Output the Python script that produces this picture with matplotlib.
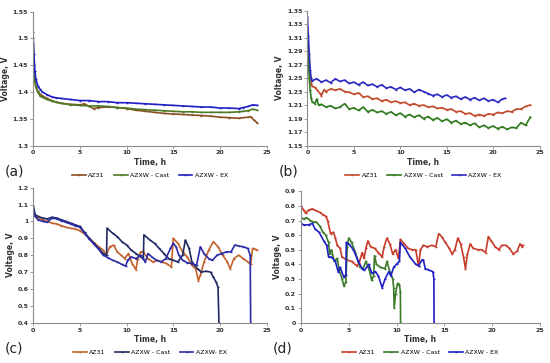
import matplotlib.pyplot as plt

FontSize = 4.5

# ---------------- panel (a) ----------------
t_a_ex = [0, 0.1, 0.2, 0.3, 0.5, 0.75, 1, 1.5, 2, 2.5, 3, 4, 5, 6, 7, 8, 9, 10, 11, 12, 13, 14, 15, 16,
          17, 18, 19, 20, 21, 22, 22.5, 23, 23.5, 24]
v_a_ex = [1.512, 1.47, 1.44, 1.425, 1.412, 1.405, 1.400, 1.395, 1.391, 1.389, 1.388, 1.386, 1.384, 1.384,
          1.382, 1.382, 1.380, 1.380, 1.379, 1.378, 1.377, 1.376, 1.375, 1.374, 1.373, 1.372, 1.372, 1.370,
          1.370, 1.369, 1.371, 1.373, 1.376, 1.375]
t_a_cast = [0, 0.1, 0.2, 0.3, 0.5, 0.75, 1, 1.5, 2, 2.5, 3, 4, 5, 6, 7, 8, 9, 10, 11, 12, 13, 14, 15, 16,
            17, 18, 19, 20, 21, 22, 22.5, 23, 23.5, 24]
v_a_cast = [1.50, 1.45, 1.42, 1.41, 1.40, 1.393, 1.390, 1.386, 1.383, 1.381, 1.379, 1.376, 1.375, 1.374,
            1.374, 1.373, 1.371, 1.370, 1.368, 1.367, 1.366, 1.365, 1.364, 1.363, 1.363, 1.362, 1.362, 1.362,
            1.362, 1.363, 1.364, 1.365, 1.368, 1.366]
t_a_az = [0, 0.1, 0.2, 0.3, 0.5, 0.75, 1, 1.5, 2, 2.5, 3, 4, 5, 5.5, 6, 6.5, 7, 8, 9, 10, 11, 12, 13, 14,
          15, 16, 17, 18, 19, 20, 21, 22, 23, 23.3, 23.6, 24]
v_a_az = [1.49, 1.45, 1.425, 1.41, 1.402, 1.396, 1.393, 1.388, 1.384, 1.381, 1.379, 1.377, 1.376, 1.378,
          1.373, 1.369, 1.371, 1.372, 1.371, 1.369, 1.366, 1.364, 1.362, 1.360, 1.359, 1.358, 1.357, 1.356,
          1.355, 1.353, 1.352, 1.351, 1.353, 1.354, 1.348, 1.342]

# ---------------- panel (b) ----------------
t_b_ex = [0, 0.1, 0.2, 0.3, 0.4, 0.5, 1.0, 1.5, 2.0, 2.5, 3.0, 3.5, 4.0, 4.5, 5.0, 5.5, 6.0, 6.5, 7.0, 7.5,
          8.0, 8.5, 9.0, 9.5, 10.0, 10.5, 11.0, 11.5, 12.0, 12.5, 13.0, 13.5, 14.0, 14.5, 15.0, 15.5, 16.0,
          16.5, 17.0, 17.5, 18.0, 18.5, 19.0, 19.5, 20.0, 20.5, 21.0, 21.3]
v_b_ex = [1.340, 1.312, 1.285, 1.262, 1.250, 1.246, 1.249, 1.244, 1.247, 1.243, 1.249, 1.245, 1.247, 1.242,
          1.244, 1.240, 1.244, 1.239, 1.241, 1.237, 1.240, 1.235, 1.237, 1.233, 1.236, 1.232, 1.234, 1.229,
          1.233, 1.230, 1.227, 1.224, 1.226, 1.222, 1.225, 1.221, 1.223, 1.219, 1.222, 1.218, 1.221, 1.217,
          1.220, 1.216, 1.218, 1.214, 1.219, 1.220]
t_b_az = [0, 0.1, 0.2, 0.3, 0.4, 0.5, 0.8, 1.0, 1.3, 1.5, 1.8, 2.0, 2.5, 3.0, 3.5, 4.0, 4.5, 5.0, 5.5, 6.0,
          6.5, 7.0, 7.5, 8.0, 8.5, 9.0, 9.5, 10.0, 10.5, 11.0, 11.5, 12.0, 12.5, 13.0, 13.5, 14.0, 14.5, 15.0,
          15.5, 16.0, 16.5, 17.0, 17.5, 18.0, 18.5, 19.0, 19.5, 20.0, 20.5, 21.0, 21.5, 22.0, 22.5, 23.0,
          23.5, 24.0]
v_b_az = [1.300, 1.285, 1.268, 1.252, 1.242, 1.238, 1.236, 1.233, 1.228, 1.224, 1.233, 1.230, 1.234, 1.232,
          1.234, 1.230, 1.229, 1.226, 1.228, 1.222, 1.223, 1.219, 1.220, 1.216, 1.218, 1.214, 1.216, 1.213,
          1.214, 1.210, 1.212, 1.209, 1.210, 1.207, 1.208, 1.205, 1.206, 1.203, 1.204, 1.200, 1.201, 1.197,
          1.198, 1.194, 1.196, 1.194, 1.197, 1.196, 1.199, 1.198, 1.201, 1.200, 1.204, 1.204, 1.208, 1.210]
t_b_cast = [0, 0.1, 0.2, 0.3, 0.4, 0.5, 0.8, 1.0, 1.2, 1.5, 2.0, 2.5, 3.0, 3.5, 4.0, 4.5, 5.0, 5.5, 6.0,
            6.5, 7.0, 7.5, 8.0, 8.5, 9.0, 9.5, 10.0, 10.5, 11.0, 11.5, 12.0, 12.5, 13.0, 13.5, 14.0, 14.5,
            15.0, 15.5, 16.0, 16.5, 17.0, 17.5, 18.0, 18.5, 19.0, 19.5, 20.0, 20.5, 21.0, 21.5, 22.0, 22.5,
            23.0, 23.5, 24.0]
v_b_cast = [1.300, 1.275, 1.250, 1.232, 1.220, 1.215, 1.212, 1.219, 1.210, 1.211, 1.207, 1.209, 1.205,
            1.207, 1.212, 1.204, 1.206, 1.202, 1.207, 1.200, 1.203, 1.199, 1.201, 1.197, 1.200, 1.195, 1.198,
            1.193, 1.196, 1.192, 1.195, 1.190, 1.193, 1.188, 1.191, 1.186, 1.189, 1.184, 1.187, 1.182, 1.184,
            1.180, 1.183, 1.177, 1.180, 1.176, 1.179, 1.175, 1.178, 1.174, 1.177, 1.176, 1.184, 1.180, 1.192]

# ---------------- panel (c) ----------------
t_c_az = [0, 0.2, 0.5, 1, 1.5, 2, 2.5, 3, 3.5, 4, 4.5, 5, 5.5, 6, 6.5, 7, 7.5, 7.8, 8.2, 8.6, 9.0, 9.4,
          9.8, 10.2, 10.6, 11.0, 11.2, 11.5, 11.8, 12.3, 12.8, 13.3, 13.8, 14.3, 14.8, 15.0, 15.5, 16.0, 16.5,
          17.0, 17.4, 17.7, 17.9, 18.3, 18.8, 19.3, 19.8, 20.3, 20.8, 21.1, 21.5, 22.0, 22.5, 23.0, 23.3,
          23.5, 23.8, 24.0]
v_c_az = [1.05, 1.03, 1.02, 1.01, 1.00, 0.99, 0.985, 0.975, 0.965, 0.96, 0.955, 0.945, 0.925, 0.90, 0.875,
          0.85, 0.83, 0.80, 0.85, 0.86, 0.82, 0.80, 0.78, 0.81, 0.75, 0.715, 0.78, 0.82, 0.82, 0.78, 0.76,
          0.77, 0.76, 0.75, 0.73, 0.90, 0.87, 0.82, 0.79, 0.74, 0.72, 0.65, 0.68, 0.76, 0.83, 0.88, 0.85,
          0.80, 0.76, 0.72, 0.78, 0.80, 0.78, 0.76, 0.745, 0.84, 0.835, 0.83]
t_c_cast = [0, 0.2, 0.5, 1, 1.5, 2, 2.5, 3, 3.5, 4, 4.5, 5, 5.5, 6, 6.5, 7, 7.5, 7.85, 7.9, 8.5, 9, 9.5,
            10, 10.5, 11, 11.5, 11.8, 11.85, 12.5, 13, 13.5, 14, 14.5, 15.0, 15.5, 16.0, 16.3, 16.7, 17.0,
            17.3, 17.6, 18.0, 18.5, 19.0, 19.3, 19.6, 19.8, 19.9]
v_c_cast = [1.09, 1.04, 1.03, 1.02, 1.015, 1.025, 1.02, 1.01, 1.00, 0.99, 0.98, 0.97, 0.935, 0.90, 0.87,
            0.84, 0.81, 0.80, 0.96, 0.93, 0.91, 0.88, 0.86, 0.83, 0.81, 0.79, 0.78, 0.92, 0.89, 0.87, 0.84,
            0.81, 0.78, 0.77, 0.76, 0.80, 0.89, 0.84, 0.76, 0.74, 0.72, 0.70, 0.705, 0.70, 0.67, 0.64, 0.61,
            0.40]
t_c_ex = [0, 0.2, 0.5, 1, 1.5, 2, 2.5, 3, 3.5, 4, 4.5, 5, 5.5, 6, 6.5, 7, 7.5, 8.0, 8.5, 9.0, 9.5, 9.9,
          10.1, 10.5, 11.0, 11.5, 12.0, 12.3, 12.7, 13.2, 13.7, 14.2, 14.7, 15.0, 15.3, 15.6, 16.0, 16.5,
          17.0, 17.5, 17.9, 18.3, 18.8, 19.2, 19.7, 20.2, 20.7, 21.2, 21.6, 22.0, 22.5, 23.0, 23.25, 23.3]
v_c_ex = [1.07, 1.03, 1.01, 1.00, 0.995, 1.02, 1.015, 1.005, 0.995, 0.985, 0.975, 0.965, 0.93, 0.895,
          0.865, 0.835, 0.80, 0.785, 0.77, 0.76, 0.745, 0.735, 0.77, 0.79, 0.78, 0.80, 0.76, 0.81, 0.79,
          0.77, 0.76, 0.78, 0.84, 0.87, 0.85, 0.80, 0.77, 0.755, 0.75, 0.74, 0.85, 0.81, 0.78, 0.77, 0.80,
          0.81, 0.82, 0.82, 0.86, 0.855, 0.85, 0.84, 0.80, 0.40]

# ---------------- panel (d) ----------------
t_d_az = [0, 0.3, 0.5, 0.8, 1.2, 1.5, 2.0, 2.3, 2.6, 2.8, 3.1, 3.4, 3.6, 3.8, 4.1, 4.3, 4.8, 5.3, 5.85,
          6.1, 6.4, 6.6, 6.8, 7.0, 7.3, 7.7, 8.1, 8.5, 8.7, 9.0, 9.3, 9.6, 9.9, 10.2, 10.4, 10.8, 11.2, 11.6,
          12.0, 12.3, 12.5, 12.8, 13.2, 13.7, 14.1, 14.4, 14.7, 15.1, 15.5, 15.8, 16.1, 16.4, 16.7, 17.0,
          17.2, 17.4, 17.7, 18.0, 18.5, 18.9, 19.3, 19.6, 19.9, 20.3, 20.7, 21.0, 21.4, 21.8, 22.2, 22.6,
          22.9, 23.1, 23.2]
v_d_az = [0.80, 0.77, 0.75, 0.77, 0.78, 0.77, 0.755, 0.74, 0.73, 0.70, 0.61, 0.62, 0.58, 0.53, 0.51, 0.45,
          0.43, 0.42, 0.39, 0.41, 0.48, 0.44, 0.51, 0.56, 0.52, 0.51, 0.48, 0.45, 0.52, 0.58, 0.54, 0.47,
          0.50, 0.44, 0.57, 0.54, 0.51, 0.50, 0.50, 0.39, 0.50, 0.53, 0.52, 0.53, 0.52, 0.61, 0.59, 0.55,
          0.51, 0.47, 0.50, 0.58, 0.54, 0.45, 0.37, 0.47, 0.54, 0.51, 0.50, 0.50, 0.48, 0.59, 0.56, 0.52,
          0.50, 0.53, 0.53, 0.51, 0.47, 0.49, 0.54, 0.52, 0.53]
t_d_cast = [0, 0.3, 0.6, 1.0, 1.3, 1.6, 2.0, 2.3, 2.6, 2.9, 3.0, 3.2, 3.5, 3.8, 4.0, 4.3, 4.5, 4.7, 4.85,
            5.0, 5.3, 5.7, 6.0, 6.2, 6.5, 6.8, 7.2, 7.4, 7.6, 7.7, 7.9, 8.3, 8.8, 9.0, 9.3, 9.6, 9.7, 9.75,
            9.9, 10.1, 10.3, 10.4, 10.42]
v_d_cast = [0.72, 0.71, 0.72, 0.70, 0.69, 0.69, 0.66, 0.62, 0.60, 0.55, 0.47, 0.50, 0.42, 0.44, 0.36, 0.30,
            0.25, 0.28, 0.52, 0.58, 0.55, 0.48, 0.42, 0.38, 0.37, 0.42, 0.35, 0.29, 0.32, 0.46, 0.40, 0.38,
            0.37, 0.42, 0.35, 0.30, 0.24, 0.10, 0.20, 0.27, 0.26, 0.21, 0.0]
t_d_ex = [0, 0.3, 0.8, 1.2, 1.5, 1.9, 2.4, 2.7, 2.9, 3.2, 3.6, 3.9, 4.1, 4.5, 4.7, 4.75, 5.0, 5.5, 6.0, 6.4,
          6.65, 7.1, 7.4, 7.8, 8.1, 8.5, 8.8, 9.2, 9.4, 9.7, 10.0, 10.3, 10.4, 10.9, 11.4, 12.0, 12.3, 12.65,
          12.8, 13.0, 13.4, 13.8, 13.9, 13.92]
v_d_ex = [0.68, 0.67, 0.67, 0.68, 0.64, 0.62, 0.56, 0.53, 0.45, 0.45, 0.42, 0.35, 0.38, 0.31, 0.33, 0.55,
          0.54, 0.50, 0.42, 0.37, 0.36, 0.40, 0.34, 0.35, 0.32, 0.24, 0.30, 0.35, 0.32, 0.38, 0.40, 0.42,
          0.55, 0.51, 0.45, 0.40, 0.39, 0.43, 0.43, 0.37, 0.36, 0.35, 0.30, 0.0]


def draw_panel(fig, rect, series, ylim, ystep, yfmt, tag, ex_label='AZXW - EX'):
    ax = fig.add_axes(rect)
    labels = ['AZ31', 'AZXW - Cast', ex_label]
    for (t, v, c), lab in zip(series, labels):
        ax.plot(t, v, color=c, linewidth=1.2, marker='_', markersize=1.8, label=lab)
    ax.set_xlim(0, 25)
    ax.set_ylim(*ylim)
    ax.set_xticks(range(0, 26, 5))
    n = int(round((ylim[1] - ylim[0]) / ystep))
    yt = [ylim[0] + i * ystep for i in range(n + 1)]
    ax.set_yticks(yt)
    ax.set_yticklabels([yfmt(y) for y in yt])
    for s in ['top', 'right']:
        ax.spines[s].set_visible(False)
    for s in ['left', 'bottom']:
        ax.spines[s].set_color('#8c8c8c')
        ax.spines[s].set_linewidth(0.8)
    ax.tick_params(axis='both', labelsize=FontSize, length=2, width=0.6, color='#8c8c8c', pad=1.5)
    for lbl in ax.get_xticklabels() + ax.get_yticklabels():
        lbl.set_fontweight('bold')
        lbl.set_color('#333333')
    ax.set_xlabel('Time, h', fontsize=5.5, fontweight='bold', color='#333333', labelpad=1.5)
    ax.set_ylabel('Voltage, V', fontsize=5.5, fontweight='bold', color='#333333', labelpad=2)
    ax.legend(loc='upper center', bbox_to_anchor=(0.5, -0.16), ncol=3, frameon=False,
              fontsize=FontSize, handlelength=2.2, columnspacing=1.5, handletextpad=0.4)
    fig.text(rect[0] - 0.052, rect[1] - 0.082, tag, fontsize=10, color='#222222')
    return ax


def fmt_g(y):
    return ('%.2f' % y).rstrip('0').rstrip('.')


def fmt_2(y):
    return '%.2f' % y


def plot_data():
    fig = plt.figure(figsize=(5.5, 3.63), dpi=100)

    draw_panel(fig, [0.060, 0.599, 0.425, 0.369],
               [(t_a_az, v_a_az, '#8a4f22'), (t_a_cast, v_a_cast, '#4f7a25'), (t_a_ex, v_a_ex, '#1f1fc4')],
               (1.3, 1.55), 0.05, fmt_g, '(a)')
    draw_panel(fig, [0.559, 0.599, 0.422, 0.372],
               [(t_b_az, v_b_az, '#c24a2c'), (t_b_cast, v_b_cast, '#2f7a1f'), (t_b_ex, v_b_ex, '#2a2ac0')],
               (1.15, 1.35), 0.02, fmt_2, '(b)')
    draw_panel(fig, [0.0606, 0.111, 0.424, 0.372],
               [(t_c_az, v_c_az, '#c4622b'), (t_c_cast, v_c_cast, '#1f2a62'), (t_c_ex, v_c_ex, '#2c2ca8')],
               (0.4, 1.2), 0.1, fmt_g, '(c)', ex_label='AZXW- EX')
    draw_panel(fig, [0.547, 0.111, 0.435, 0.362],
               [(t_d_az, v_d_az, '#c83c2a'), (t_d_cast, v_d_cast, '#3a7a2a'), (t_d_ex, v_d_ex, '#2020c4')],
               (0.0, 0.9), 0.1, fmt_g, '(d)')

    plt.savefig('out.png', dpi=100)


if __name__ == "__main__":
    plot_data()
